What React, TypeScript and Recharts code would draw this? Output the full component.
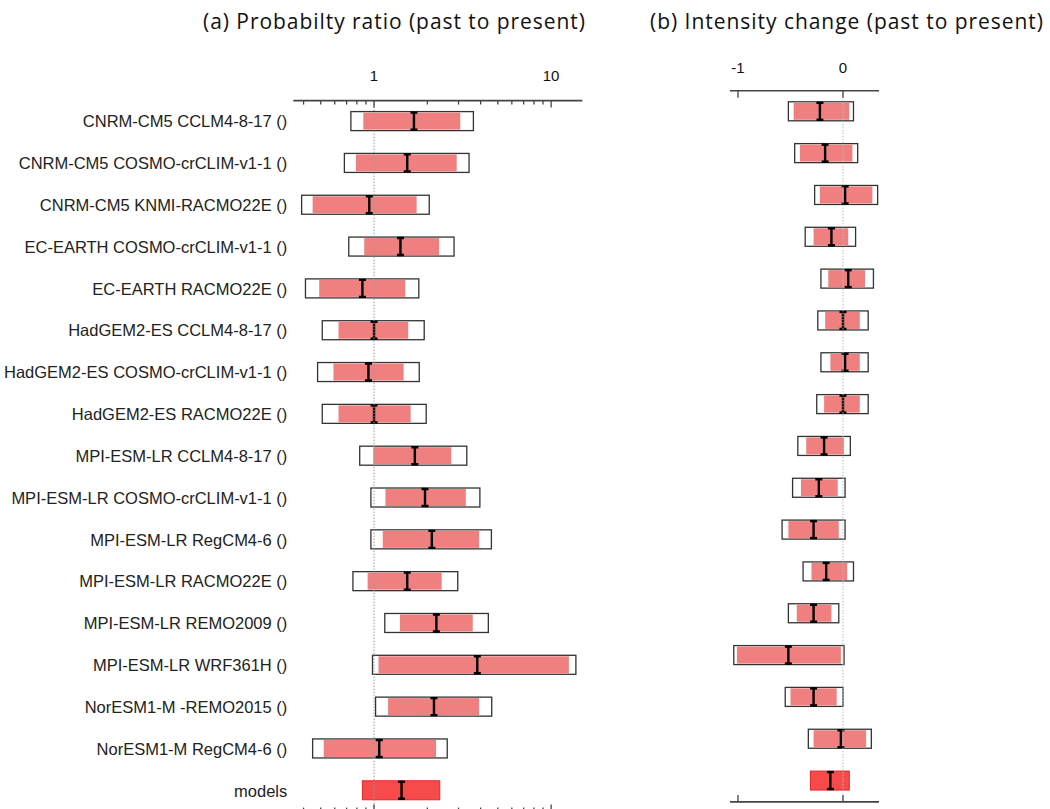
import React from "react";
import { ComposedChart, Bar, XAxis, YAxis, ReferenceLine } from "recharts";

// model chains, top to bottom
const modelNames = [
  "CNRM-CM5 CCLM4-8-17 ()",
  "CNRM-CM5 COSMO-crCLIM-v1-1 ()",
  "CNRM-CM5 KNMI-RACMO22E ()",
  "EC-EARTH COSMO-crCLIM-v1-1 ()",
  "EC-EARTH RACMO22E ()",
  "HadGEM2-ES CCLM4-8-17 ()",
  "HadGEM2-ES COSMO-crCLIM-v1-1 ()",
  "HadGEM2-ES RACMO22E ()",
  "MPI-ESM-LR CCLM4-8-17 ()",
  "MPI-ESM-LR COSMO-crCLIM-v1-1 ()",
  "MPI-ESM-LR RegCM4-6 ()",
  "MPI-ESM-LR RACMO22E ()",
  "MPI-ESM-LR REMO2009 ()",
  "MPI-ESM-LR WRF361H ()",
  "NorESM1-M -REMO2015 ()",
  "NorESM1-M RegCM4-6 ()",
  "models",
];

// (a) probability ratio
const ratioBoxLow = [0.74, 0.68, 0.39, 0.72, 0.41, 0.51, 0.48, 0.51, 0.83, 0.96, 0.96, 0.76, 1.15, 0.98, 1.02, 0.45, 0.86];
const ratioBoxHigh = [3.64, 3.44, 2.05, 2.83, 1.79, 1.92, 1.8, 1.97, 3.34, 3.96, 4.6, 2.97, 4.42, 13.8, 4.62, 2.59, 2.35];
const ratioBarLow = [0.87, 0.79, 0.45, 0.88, 0.49, 0.63, 0.59, 0.63, 0.99, 1.16, 1.12, 0.92, 1.4, 1.06, 1.2, 0.52, 0.86];
const ratioBarHigh = [3.07, 2.93, 1.74, 2.33, 1.5, 1.56, 1.47, 1.61, 2.73, 3.3, 3.92, 2.41, 3.61, 12.6, 3.92, 2.24, 2.35];
const ratioMedian = [1.68, 1.54, 0.94, 1.41, 0.86, 1.0, 0.93, 1.0, 1.7, 1.94, 2.12, 1.54, 2.25, 3.83, 2.18, 1.07, 1.43];
const ratioTicks = [0.4, 0.5, 0.6, 0.7, 0.8, 0.9, 1, 2, 3, 4, 5, 6, 7, 8, 9, 10];
const ratioLabelled = [1, 10];

// (b) intensity change
const intBoxLow = [-0.52, -0.46, -0.27, -0.36, -0.21, -0.24, -0.21, -0.25, -0.43, -0.48, -0.58, -0.38, -0.52, -1.04, -0.55, -0.33, -0.31];
const intBoxHigh = [0.1, 0.14, 0.33, 0.12, 0.29, 0.24, 0.24, 0.24, 0.07, 0.02, 0.02, 0.1, -0.04, 0.01, 0.0, 0.27, 0.06];
const intBarLow = [-0.47, -0.41, -0.22, -0.28, -0.14, -0.17, -0.12, -0.18, -0.35, -0.4, -0.52, -0.3, -0.44, -1.01, -0.5, -0.28, -0.31];
const intBarHigh = [0.06, 0.09, 0.28, 0.05, 0.21, 0.16, 0.16, 0.16, 0.01, -0.05, -0.04, 0.04, -0.11, -0.02, -0.06, 0.22, 0.06];
const intMedian = [-0.22, -0.17, 0.02, -0.11, 0.05, 0.0, 0.02, 0.0, -0.18, -0.23, -0.28, -0.16, -0.28, -0.52, -0.28, -0.02, -0.12];
const intTicks = [-1, 0];

const rows = modelNames.map((name, i) => ({
  name,
  ratioBox: [ratioBoxLow[i], ratioBoxHigh[i]],
  ratioBar: [ratioBarLow[i], ratioBarHigh[i]],
  ratioMid: [ratioMedian[i], ratioMedian[i]],
  intBox: [intBoxLow[i], intBoxHigh[i]],
  intBar: [intBarLow[i], intBarHigh[i]],
  intMid: [intMedian[i], intMedian[i]],
}));

const FONT = "'Liberation Sans', Arial, Helvetica, sans-serif";
const AXIS = "#444";

const BoxShape = (props: any) => {
  const { x, y, width, height, payload } = props;
  const all = payload.name === "models";
  return (
    <rect
      x={x}
      y={y}
      width={width}
      height={height}
      fill={all ? "#f74a4a" : "#fff"}
      stroke={all ? "#e02828" : "#333"}
      strokeWidth={all ? 1 : 1.3}
    />
  );
};

const InnerShape = (props: any) => {
  const { x, y, width, height, payload } = props;
  if (payload.name === "models") return null;
  return <rect x={x} y={y + 1} width={width} height={height - 2} fill="#f08080" />;
};

const Beam = (props: any) => {
  const { x, y, height } = props;
  const top = y + 1;
  const bot = y + height - 1;
  return (
    <g stroke="#000" strokeWidth={2.4}>
      <line x1={x} x2={x} y1={top} y2={bot} />
      <line x1={x - 3.5} x2={x + 3.5} y1={top} y2={top} />
      <line x1={x - 3.5} x2={x + 3.5} y1={bot} y2={bot} />
    </g>
  );
};

const makeTick = (labelled: number[], dir: number, fontSize: number, gap: number) => (props: any) => {
  const { x, y, payload } = props;
  const major = labelled.includes(payload.value);
  return (
    <g>
      <line x1={x} x2={x} y1={y} y2={y + dir * (major ? 7 : 4)} stroke={AXIS} strokeWidth={1.3} />
      {dir > 0 && major && (
        <text x={x} y={y - gap} textAnchor="middle" fontSize={fontSize} fontFamily={FONT} fill="#111">
          {payload.value}
        </text>
      )}
    </g>
  );
};

const RatioTop = makeTick(ratioLabelled, 1, 15, 20);
const RatioBottom = makeTick(ratioLabelled, -1, 15, 0);
const IntTop = makeTick(intTicks, 1, 15, 18);
const IntBottom = makeTick(intTicks, -1, 15, 0);

export default function App() {
  return (
    <div style={{ position: "absolute", left: 0, top: 0, width: 1050, height: 809, overflow: "hidden", background: "#fff" }}>
      <svg width={1050} height={50} style={{ position: "absolute", left: 0, top: 0 }}>
        <text
          x={203}
          y={29}
          fontSize={21}
          fontFamily="'Open Sans', sans-serif"
          fill="#111"
          textLength={382}
          lengthAdjust="spacing"
        >
          (a) Probabilty ratio (past to present)
        </text>
        <text
          x={650}
          y={29}
          fontSize={21}
          fontFamily="'Open Sans', sans-serif"
          fill="#111"
          textLength={393}
          lengthAdjust="spacing"
        >
          (b) Intensity change (past to present)
        </text>
      </svg>

      <div style={{ position: "absolute", left: 0, top: 0 }}>
        <ComposedChart
          width={600}
          height={830}
          data={rows}
          layout="vertical"
          barGap={-19}
          margin={{ top: 0, right: 17.7, bottom: 0, left: 0 }}
        >
          <XAxis
            xAxisId="top"
            orientation="top"
            type="number"
            scale="log"
            domain={[0.35, 15]}
            allowDataOverflow
            ticks={ratioTicks}
            interval={0}
            height={100.6}
            tickSize={0}
            tickMargin={0}
            tickLine={false}
            axisLine={{ stroke: AXIS, strokeWidth: 1.6 }}
            tick={<RatioTop />}
          />
          <XAxis
            xAxisId="bottom"
            orientation="bottom"
            type="number"
            scale="log"
            domain={[0.35, 15]}
            allowDataOverflow
            ticks={ratioTicks}
            interval={0}
            height={18.4}
            tickSize={0}
            tickMargin={0}
            tickLine={false}
            axisLine={{ stroke: AXIS, strokeWidth: 1.6 }}
            tick={<RatioBottom />}
          />
          <YAxis
            type="category"
            dataKey="name"
            width={293.3}
            interval={0}
            tickLine={false}
            axisLine={false}
            tickSize={0}
            tickMargin={6}
            tick={{ fontSize: 16.5, fill: "#222", fontFamily: FONT }}
          />
          <ReferenceLine xAxisId="top" x={1} stroke="#999" strokeDasharray="1.5 1.5" />
          <Bar xAxisId="top" dataKey="ratioBox" barSize={19} shape={BoxShape} isAnimationActive={false} />
          <Bar xAxisId="top" dataKey="ratioBar" barSize={19} shape={InnerShape} isAnimationActive={false} />
          <Bar xAxisId="top" dataKey="ratioMid" barSize={19} shape={Beam} isAnimationActive={false} />
        </ComposedChart>
      </div>

      <div style={{ position: "absolute", left: 700, top: 0 }}>
        <ComposedChart
          width={200}
          height={830}
          data={rows}
          layout="vertical"
          barGap={-19}
          margin={{ top: 0, right: 21, bottom: 0, left: 30 }}
        >
          <XAxis
            xAxisId="top"
            orientation="top"
            type="number"
            domain={[-1.076, 0.343]}
            allowDataOverflow
            ticks={intTicks}
            interval={0}
            height={90.8}
            tickSize={0}
            tickMargin={0}
            tickLine={false}
            axisLine={{ stroke: AXIS, strokeWidth: 1.6 }}
            tick={<IntTop />}
          />
          <XAxis
            xAxisId="bottom"
            orientation="bottom"
            type="number"
            domain={[-1.076, 0.343]}
            allowDataOverflow
            ticks={intTicks}
            interval={0}
            height={28.1}
            tickSize={0}
            tickMargin={0}
            tickLine={false}
            axisLine={{ stroke: AXIS, strokeWidth: 1.6 }}
            tick={<IntBottom />}
          />
          <YAxis type="category" dataKey="name" hide width={0} />
          <ReferenceLine xAxisId="top" x={0} stroke="#bbb" strokeDasharray="1.5 1.5" />
          <Bar xAxisId="top" dataKey="intBox" barSize={19} shape={BoxShape} isAnimationActive={false} />
          <Bar xAxisId="top" dataKey="intBar" barSize={19} shape={InnerShape} isAnimationActive={false} />
          <Bar xAxisId="top" dataKey="intMid" barSize={19} shape={Beam} isAnimationActive={false} />
        </ComposedChart>
      </div>
    </div>
  );
}
